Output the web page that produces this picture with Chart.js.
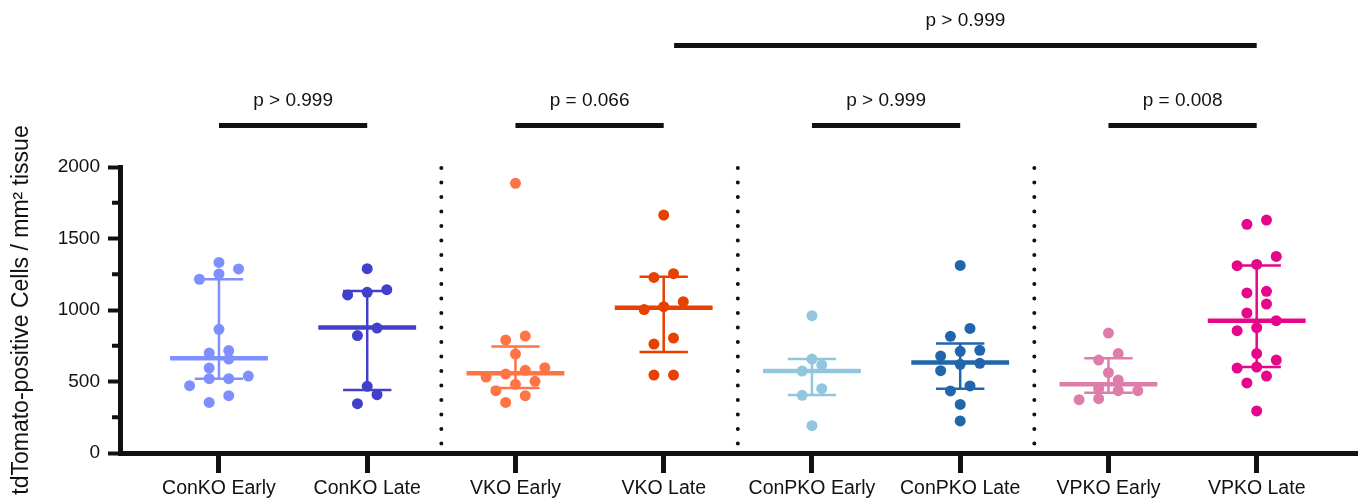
<!DOCTYPE html>
<html>
<head>
<meta charset="utf-8">
<title>tdTomato-positive cells per mm2</title>
<script src="https://cdn.jsdelivr.net/npm/chart.js@4.4.1/dist/chart.umd.min.js"></script>
<style>
    html, body { margin: 0; padding: 0; background: #fff; }
    #wrap { width: 1363px; height: 499px; position: relative; }
</style>
</head>
<body>
<div id="wrap"><canvas id="chart"></canvas></div>
<script>
// Values (cells / mm2 tissue)
const groups = ['ConKO Early', 'ConKO Late', 'VKO Early', 'VKO Late',
                'ConPKO Early', 'ConPKO Late', 'VPKO Early', 'VPKO Late'];

const conKoEarly = [354, 401, 471, 520, 520, 538, 594, 657, 699, 716, 865, 1215, 1252, 1287, 1333];
const conKoLate = [345, 408, 466, 821, 874, 1105, 1124, 1142, 1289];
const vKoEarly = [354, 401, 436, 480, 501, 531, 552, 578, 597, 692, 790, 818, 1886];
const vKoLate = [545, 545, 762, 804, 1003, 1023, 1058, 1228, 1254, 1664];
const conPkoEarly = [191, 403, 450, 573, 616, 657, 960];
const conPkoLate = [224, 340, 434, 469, 576, 620, 627, 678, 711, 718, 816, 871, 1312];
const vPkoEarly = [373, 380, 436, 436, 450, 511, 562, 650, 695, 839];
const vPkoLate = [294, 490, 538, 594, 601, 650, 695, 855, 876, 925, 979, 1042, 1119, 1131, 1310, 1319, 1375, 1599, 1629];

const samples = [conKoEarly, conKoLate, vKoEarly, vKoLate, conPkoEarly, conPkoLate, vPkoEarly, vPkoLate];

// median with interquartile range, as drawn in the figure
const medians = [662, 877, 557, 1016, 573, 632, 480, 925];
const lowerBars = [520, 441, 455, 706, 406, 450, 422, 601];
const upperBars = [1215, 1133, 744, 1233, 657, 765, 662, 1312];

// comparisons (group positions) and their p values
const bracketFrom = [1, 3, 5, 7, 4.07];
const bracketTo = [2, 4, 6, 8, 8];
const bracketLevel = [2290, 2290, 2290, 2290, 2850];
const bracketLabels = ['p > 0.999', 'p = 0.066', 'p > 0.999', 'p = 0.008', 'p > 0.999'];

const groupColors = ['#7F8FFF', '#4040CC', '#FF7445', '#E84000',
                     '#92C5DE', '#2166AC', '#DE7DAA', '#E6068A'];
const FONT = 'Arial, "Liberation Sans", Helvetica, sans-serif';
const INK = '#111';

// column scatter: values that are close share a row and get spread sideways
function swarm(values, center) {
    const sorted = values.slice().sort((a, b) => a - b);
    const rows = [];
    sorted.forEach(v => {
        const row = rows[rows.length - 1];
        if (row && v - row[0] < 75) row.push(v);
        else rows.push([v]);
    });
    const slot = 0.066;
    const pts = [];
    rows.forEach(row => row.forEach((v, k) => {
        pts.push({ x: center + (2 * k - (row.length - 1)) * slot, y: v });
    }));
    return pts;
}

const annotations = {
    id: 'annotations',
    beforeDatasetsDraw(chart) {
        const { ctx, scales: { x, y } } = chart;
        // dotted separators between the genotype pairs
        ctx.save();
        ctx.strokeStyle = INK;
        ctx.lineWidth = 4;
        ctx.lineCap = 'round';
        ctx.setLineDash([0, 14.5]);
        [2, 4, 6].forEach(i => {
            const px = x.getPixelForValue(i + 0.5);
            ctx.beginPath();
            ctx.moveTo(px, y.getPixelForValue(2000) + 1);
            ctx.lineTo(px, y.getPixelForValue(0) - 9);
            ctx.stroke();
        });
        ctx.restore();
    },
    afterDatasetsDraw(chart) {
        const { ctx, scales: { x, y }, chartArea } = chart;
        const unit = x.getPixelForValue(2) - x.getPixelForValue(1);
        ctx.save();
        ctx.lineCap = 'butt';

        // median + interquartile range
        groups.forEach((g, i) => {
            const cx = x.getPixelForValue(i + 1);
            const cap = unit * 0.163;
            const half = unit * 0.33;
            ctx.strokeStyle = groupColors[i];
            ctx.lineWidth = 2.5;
            ctx.beginPath();
            ctx.moveTo(cx, y.getPixelForValue(lowerBars[i]));
            ctx.lineTo(cx, y.getPixelForValue(upperBars[i]));
            [lowerBars[i], upperBars[i]].forEach(v => {
                const py = y.getPixelForValue(v);
                ctx.moveTo(cx - cap, py);
                ctx.lineTo(cx + cap, py);
            });
            ctx.stroke();
            ctx.lineWidth = 4.5;
            ctx.beginPath();
            const my = y.getPixelForValue(medians[i]);
            ctx.moveTo(cx - half, my);
            ctx.lineTo(cx + half, my);
            ctx.stroke();
        });

        // minor ticks on the y axis
        ctx.strokeStyle = INK;
        ctx.lineWidth = 4;
        y.ticks.forEach(t => {
            if (t.value % 500 === 0) return;
            const py = y.getPixelForValue(t.value);
            ctx.beginPath();
            ctx.moveTo(chartArea.left - 8, py);
            ctx.lineTo(chartArea.left, py);
            ctx.stroke();
        });

        // comparison brackets with p values
        ctx.fillStyle = INK;
        ctx.font = '19px ' + FONT;
        ctx.textAlign = 'center';
        ctx.textBaseline = 'middle';
        ctx.lineWidth = 5;
        bracketLabels.forEach((label, i) => {
            const x1 = x.getPixelForValue(bracketFrom[i]);
            const x2 = x.getPixelForValue(bracketTo[i]);
            const py = y.getPixelForValue(bracketLevel[i]);
            ctx.beginPath();
            ctx.moveTo(x1, py);
            ctx.lineTo(x2, py);
            ctx.stroke();
            ctx.fillText(label, (x1 + x2) / 2, py - 25);
        });
        ctx.restore();
    }
};

new Chart(document.getElementById('chart'), {
    type: 'scatter',
    data: {
        datasets: samples.map((vals, i) => ({
            label: groups[i],
            data: swarm(vals, i + 1),
            backgroundColor: groupColors[i],
            pointBackgroundColor: groupColors[i],
            pointBorderWidth: 0,
            pointRadius: 5.5,
            pointHoverRadius: 5.5
        }))
    },
    options: {
        responsive: true,
        maintainAspectRatio: false,
        animation: false,
        layout: { padding: { top: 167, right: 0, left: 0, bottom: 0 } },
        plugins: {
            legend: { display: false },
            tooltip: { enabled: false }
        },
        scales: {
            x: {
                type: 'linear',
                min: 0.3324,
                max: 8.68,
                afterBuildTicks: scale => {
                    scale.ticks = groups.map((g, i) => ({ value: i + 1 }));
                },
                afterFit: scale => { scale.height = 46; },
                border: { color: INK, width: 5 },
                grid: {
                    drawOnChartArea: false,
                    drawTicks: true,
                    tickLength: 20,
                    tickWidth: 5,
                    tickColor: INK
                },
                ticks: {
                    autoSkip: false,
                    maxRotation: 0,
                    padding: 4,
                    color: INK,
                    font: { family: FONT, size: 19.5 },
                    callback: v => groups[Math.round(v) - 1] || ''
                }
            },
            y: {
                min: 0,
                max: 2000,
                afterFit: scale => { scale.width = 120; },
                border: { color: INK, width: 5 },
                grid: {
                    drawOnChartArea: false,
                    drawTicks: true,
                    tickLength: 12,
                    tickWidth: 4,
                    tickColor: c => (c.tick && c.tick.value % 500 === 0) ? INK : 'rgba(0,0,0,0)'
                },
                ticks: {
                    stepSize: 250,
                    padding: 8,
                    color: INK,
                    font: { family: FONT, size: 19 },
                    callback: v => (v % 500 === 0 ? v : '')
                },
                title: {
                    display: true,
                    text: 'tdTomato-positive Cells / mm² tissue',
                    color: INK,
                    font: { family: FONT, size: 23 },
                    padding: { top: 8, bottom: 0 }
                }
            }
        }
    },
    plugins: [annotations]
});
</script>
</body>
</html>
